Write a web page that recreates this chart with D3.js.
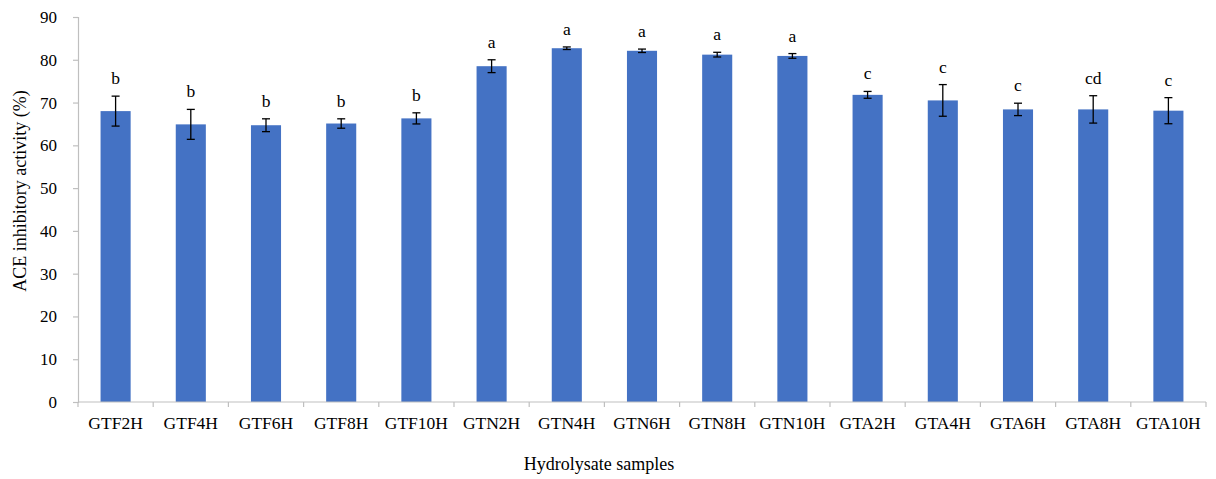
<!DOCTYPE html>
<html>
<head>
<meta charset="utf-8">
<script src="https://cdn.jsdelivr.net/npm/d3@7/dist/d3.min.js"></script>
<style>
  html, body { margin: 0; padding: 0; background: #fff; }
  svg { display: block; }
  text { font-family: "Liberation Serif", "Times New Roman", serif; fill: #000; }
</style>
</head>
<body>
<svg id="chart" width="1216" height="479"></svg>
<script>
// ACE inhibitory activity of hydrolysate samples (mean ± SD) with significance letters
const samples = ["GTF2H","GTF4H","GTF6H","GTF8H","GTF10H","GTN2H","GTN4H","GTN6H","GTN8H","GTN10H","GTA2H","GTA4H","GTA6H","GTA8H","GTA10H"];
const activity = [68.0, 64.9, 64.7, 65.1, 66.3, 78.5, 82.7, 82.1, 81.2, 80.9, 71.8, 70.5, 68.4, 68.4, 68.1];
const sd = [3.5, 3.5, 1.5, 1.1, 1.3, 1.5, 0.3, 0.4, 0.55, 0.55, 0.8, 3.7, 1.45, 3.2, 3.05];
const letters = ["b","b","b","b","b","a","a","a","a","a","c","c","c","cd","c"];
const yTicks = [0, 10, 20, 30, 40, 50, 60, 70, 80, 90];

const svg = d3.select("#chart");
const margin = { left: 78, right: 1206, top: 17, bottom: 402 };
const axisColor = "#bfbfbf";

const x = d3.scaleBand().domain(samples).range([margin.left, margin.right]).paddingInner(0.6).paddingOuter(0.3);
const band = d3.scaleBand().domain(samples).range([margin.left, margin.right]);
const y = d3.scaleLinear().domain([0, 90]).range([margin.bottom, margin.top]);

// bars
svg.append("g").selectAll("rect").data(samples).join("rect")
  .attr("x", d => x(d))
  .attr("width", x.bandwidth())
  .attr("y", (d, i) => y(activity[i]))
  .attr("height", (d, i) => y(0) - y(activity[i]))
  .attr("fill", "#4472C4");

// y axis
const yAxis = svg.append("g").attr("transform", `translate(${margin.left},0)`)
  .call(d3.axisLeft(y).tickValues(yTicks).tickSize(5).tickPadding(16));
yAxis.select(".domain").attr("stroke", axisColor).attr("stroke-width", 1.2);
yAxis.selectAll(".tick line").attr("stroke", axisColor).attr("stroke-width", 1.2);
yAxis.selectAll(".tick text").style("font-size", "17px").attr("fill", "#000");

// x axis: baseline with tick marks between categories
const xg = svg.append("g");
xg.append("line")
  .attr("x1", margin.left).attr("x2", margin.right)
  .attr("y1", y(0)).attr("y2", y(0))
  .attr("stroke", axisColor).attr("stroke-width", 1.2);
const edges = samples.map(d => band(d)).concat([band(samples[samples.length - 1]) + band.bandwidth()]);
xg.selectAll("line.sep").data(edges).join("line")
  .attr("class", "sep")
  .attr("x1", d => d).attr("x2", d => d)
  .attr("y1", y(0)).attr("y2", y(0) + 5)
  .attr("stroke", axisColor).attr("stroke-width", 1.2);
xg.selectAll("text").data(samples).join("text")
  .attr("x", d => band(d) + band.bandwidth() / 2)
  .attr("y", 429)
  .attr("text-anchor", "middle")
  .style("font-size", "17.5px")
  .text(d => d);

// error bars
const eb = svg.append("g").attr("stroke", "#000").attr("stroke-width", 1.3);
samples.forEach((d, i) => {
  const cx = x(d) + x.bandwidth() / 2;
  const hi = y(activity[i] + sd[i]);
  const lo = y(activity[i] - sd[i]);
  eb.append("line").attr("x1", cx).attr("x2", cx).attr("y1", hi).attr("y2", lo);
  eb.append("line").attr("x1", cx - 4).attr("x2", cx + 4).attr("y1", hi).attr("y2", hi);
  eb.append("line").attr("x1", cx - 4).attr("x2", cx + 4).attr("y1", lo).attr("y2", lo);
});

// significance letters
svg.append("g").selectAll("text").data(samples).join("text")
  .attr("x", d => x(d) + x.bandwidth() / 2)
  .attr("y", (d, i) => y(activity[i] + sd[i]) - 12)
  .attr("text-anchor", "middle")
  .style("font-size", "17.5px")
  .text((d, i) => letters[i]);

// axis titles
svg.append("text")
  .attr("transform", "translate(26,191) rotate(-90)")
  .attr("text-anchor", "middle")
  .style("font-size", "18px")
  .text("ACE inhibitory activity (%)");

svg.append("text")
  .attr("x", 599)
  .attr("y", 470)
  .attr("text-anchor", "middle")
  .style("font-size", "18px")
  .text("Hydrolysate samples");
</script>
</body>
</html>
